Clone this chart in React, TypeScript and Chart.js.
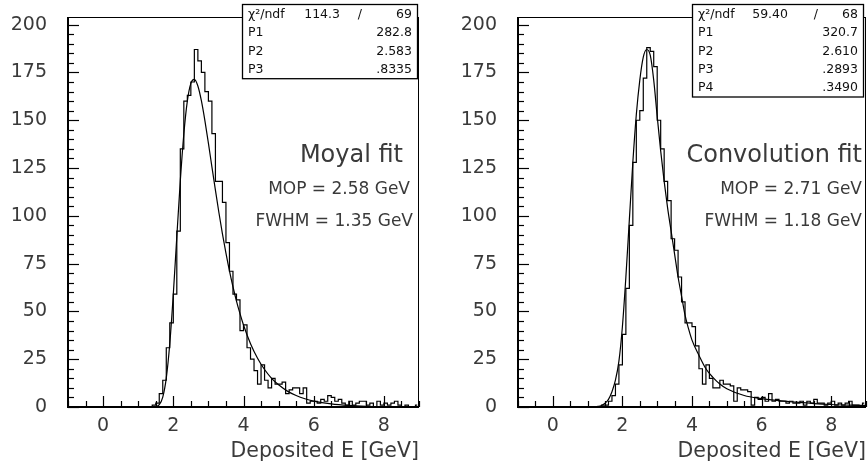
import React, { useEffect, useRef } from "react";
import { Chart, registerables } from "chart.js";

Chart.register(...registerables);

// ---------- data ----------
const BIN_LOW = -1.0;
const BIN_WIDTH = 0.1;

// counts per 0.1 GeV bin, from -1.0 to 9.0 (10 bins per row)
const moyalCounts = [
  0, 0, 0, 0, 0, 0, 0, 0, 0, 0,
  0, 0, 0, 0, 0, 0, 0, 0, 0, 0,
  0, 0, 0, 0, 1, 2, 7, 14, 31, 44,
  59, 92, 135, 160, 163, 170, 187, 181, 175, 165,
  160, 143, 118, 118, 107, 86, 71, 59, 56, 40,
  43, 31, 25, 19, 12, 22, 14, 10, 15, 12,
  12, 13, 7, 9, 10, 10, 7, 10, 2, 3,
  3, 2, 4, 3, 6, 5, 3, 4, 2, 1,
  3, 1, 2, 3, 3, 1, 2, 0, 3, 1,
  2, 1, 2, 3, 1, 0, 1, 0, 0, 1,
];

const convCounts = [
  0, 0, 0, 0, 0, 0, 0, 0, 0, 0,
  0, 0, 0, 0, 0, 0, 0, 0, 0, 0,
  0, 0, 0, 0, 1, 1, 3, 6, 12, 22,
  38, 62, 95, 128, 150, 155, 172, 188, 186, 178,
  150, 135, 118, 108, 88, 82, 68, 55, 44, 44,
  42, 32, 20, 12, 22, 15, 10, 10, 14, 12,
  12, 11, 3, 10, 9, 9, 8, 1, 5, 4,
  5, 3, 7, 3, 4, 3, 3, 2, 3, 2,
  2, 3, 1, 3, 2, 4, 2, 2, 1, 2,
  3, 1, 2, 1, 2, 3, 1, 1, 0, 2,
];

const moyalFitE = [1.3, 1.4, 1.5, 1.6, 1.7, 1.8, 1.9, 2.0, 2.1, 2.2, 2.3, 2.4, 2.5, 2.6, 2.7, 2.8, 2.9, 3.0, 3.1, 3.2, 3.3, 3.4, 3.5, 3.6, 3.7, 3.8, 3.9, 4.0, 4.2, 4.4, 4.6, 4.8, 5.0, 5.25, 5.5, 5.75, 6.0, 6.5, 7.0, 7.5, 8.0, 8.5, 9.0];
const moyalFitY = [0, 0, 0.2, 1.2, 5.2, 15.1, 33.2, 59.0, 89.0, 118.4, 142.8, 160.0, 169.3, 171.4, 167.9, 160.2, 149.8, 138.0, 125.6, 113.4, 101.6, 90.6, 80.5, 71.2, 62.9, 55.4, 48.8, 42.9, 33.1, 25.5, 19.6, 15.0, 11.6, 8.3, 6.0, 4.3, 3.1, 1.6, 0.8, 0.4, 0.2, 0.1, 0.06];

const convFitE = [1.1, 1.2, 1.3, 1.4, 1.5, 1.6, 1.7, 1.8, 1.9, 2.0, 2.1, 2.2, 2.3, 2.4, 2.5, 2.6, 2.7, 2.8, 2.9, 3.0, 3.1, 3.2, 3.3, 3.4, 3.5, 3.6, 3.7, 3.8, 3.9, 4.0, 4.2, 4.4, 4.6, 4.8, 5.0, 5.5, 6.0, 6.5, 7.0, 7.5, 8.0, 8.5, 9.0];
const convFitY = [0, 0.1, 0.3, 0.8, 2, 4, 8, 14, 24, 42, 68, 98, 128, 153, 171, 183, 187, 184, 171, 152, 134, 118, 104, 92, 80, 68, 58, 48, 41, 35, 27, 20, 15.5, 12, 9.5, 6, 4.4, 3.3, 2.5, 1.8, 1.3, 1.0, 0.8];

const xMajorTicks = [0, 2, 4, 6, 8];
const yMajorTicks = [0, 25, 50, 75, 100, 125, 150, 175, 200];
const X_MIN = -1;
const X_MAX = 9;
const Y_MAX = 204;

const moyalStats = [
  ["χ²/ndf", "114.3", "/", "69"],
  ["P1", "", "", "282.8"],
  ["P2", "", "", "2.583"],
  ["P3", "", "", ".8335"],
];
const convStats = [
  ["χ²/ndf", "59.40", "/", "68"],
  ["P1", "", "", "320.7"],
  ["P2", "", "", "2.610"],
  ["P3", "", "", ".2893"],
  ["P4", "", "", ".3490"],
];
const moyalNotes = ["Moyal fit", "MOP = 2.58 GeV", "FWHM = 1.35 GeV"];
const convNotes = ["Convolution fit", "MOP = 2.71 GeV", "FWHM = 1.18 GeV"];
const xTitle = "Deposited E [GeV]";

const FONT = "'DejaVu Sans', 'Liberation Sans', sans-serif";
const TEXT_COLOR = "#3a3a3a";

type PanelProps = {
  left: number;
  width: number;
  plotLeft: number;
  plotRight: number;
  plotTop: number;
  plotBottom: number;
  counts: number[];
  fitE: number[];
  fitY: number[];
  stats: string[][];
  statsBox: { x: number; y: number; w: number; cols: number[] };
  notes: string[];
  noteRight: number[];
};

function Panel(p: PanelProps) {
  const ref = useRef<HTMLCanvasElement | null>(null);
  useEffect(() => {
    const canvas = ref.current;
    if (!canvas) return;
    const histPts = p.counts.map((c, i) => ({ x: BIN_LOW + BIN_WIDTH * (i + 0.5), y: c }));
    const fitPts = p.fitE.map((e, i) => ({ x: e, y: p.fitY[i] }));
    const H = 465;

    const decor = {
      id: "rootDecor",
      afterDraw(chart: any) {
        const { ctx, chartArea } = chart;
        const xs = chart.scales.x;
        const ys = chart.scales.y;
        const { left, right, top, bottom } = chartArea;
        ctx.save();
        // frame
        ctx.strokeStyle = "#000";
        ctx.lineWidth = 1;
        ctx.strokeRect(left + 0.5, top + 0.5, right - left - 1, bottom - top);
        ctx.lineWidth = 2;
        ctx.beginPath();
        ctx.moveTo(left, top);
        ctx.lineTo(left, bottom);
        ctx.lineTo(right, bottom);
        ctx.stroke();
        // x ticks (inward)
        ctx.lineWidth = 1.2;
        for (let k = 0; k <= 20; k++) {
          const v = X_MIN + k * 0.5;
          const px = Math.round(xs.getPixelForValue(v)) + 0.5;
          const major = xMajorTicks.includes(v);
          const len = major ? 11 : 6;
          ctx.beginPath();
          ctx.moveTo(px, bottom);
          ctx.lineTo(px, bottom - len);
          ctx.stroke();
        }
        // y ticks (inward)
        for (let v = 0; v <= Y_MAX; v += 5) {
          const py = Math.round(ys.getPixelForValue(v)) + 0.5;
          const major = yMajorTicks.includes(v);
          const len = major ? 11 : 6;
          ctx.beginPath();
          ctx.moveTo(left, py);
          ctx.lineTo(left + len, py);
          ctx.stroke();
        }
        // x title
        ctx.fillStyle = TEXT_COLOR;
        ctx.textAlign = "right";
        ctx.textBaseline = "middle";
        ctx.font = `20.5px ${FONT}`;
        ctx.fillText(xTitle, right, 452);
        // notes
        ctx.font = `24px ${FONT}`;
        ctx.fillText(p.notes[0], p.noteRight[0], 156);
        ctx.font = `17px ${FONT}`;
        ctx.fillText(p.notes[1], p.noteRight[1], 190);
        ctx.fillText(p.notes[2], p.noteRight[2], 222);
        // stats box
        const sb = p.statsBox;
        const rowH = 18.3;
        const bh = rowH * p.stats.length + 1;
        ctx.fillStyle = "#fff";
        ctx.fillRect(sb.x, sb.y, sb.w, bh);
        ctx.strokeStyle = "#000";
        ctx.lineWidth = 1.3;
        ctx.strokeRect(sb.x + 0.5, sb.y + 0.5, sb.w, bh);
        ctx.fillStyle = "#111";
        ctx.font = `12.5px ${FONT}`;
        p.stats.forEach((row, r) => {
          const cy = sb.y + rowH * (r + 0.5) + 1.5;
          ctx.textAlign = "left";
          ctx.fillText(row[0], sb.x + 6, cy);
          ctx.textAlign = "right";
          if (row[1]) ctx.fillText(row[1], sb.x + sb.cols[0], cy);
          if (row[2]) ctx.fillText(row[2], sb.x + sb.cols[1], cy);
          ctx.fillText(row[3], sb.x + sb.w - 5, cy);
        });
        ctx.restore();
      },
    };

    const chart = new Chart(canvas, {
      type: "line",
      data: {
        datasets: [
          {
            data: histPts,
            stepped: "middle",
            borderColor: "#000",
            borderWidth: 1.2,
            pointRadius: 0,
            fill: false,
          },
          {
            data: fitPts,
            borderColor: "#000",
            borderWidth: 1.2,
            pointRadius: 0,
            fill: false,
            cubicInterpolationMode: "monotone",
          },
        ],
      },
      options: {
        animation: false,
        responsive: false,
        maintainAspectRatio: false,
        layout: {
          padding: { left: 0, top: p.plotTop, right: p.width - p.plotRight, bottom: 0 },
        },
        plugins: { legend: { display: false }, tooltip: { enabled: false } },
        scales: {
          x: {
            type: "linear",
            min: X_MIN,
            max: X_MAX,
            grid: { display: false, drawTicks: false },
            border: { display: false },
            afterBuildTicks: (s: any) => {
              s.ticks = xMajorTicks.map((v) => ({ value: v }));
            },
            afterFit: (s: any) => {
              s.height = H - p.plotBottom;
              s.paddingLeft = 0;
              s.paddingRight = 0;
            },
            ticks: {
              padding: 8,
              color: TEXT_COLOR,
              font: { family: FONT, size: 19 },
              maxRotation: 0,
              autoSkip: false,
            },
          },
          y: {
            type: "linear",
            min: 0,
            max: Y_MAX,
            grid: { display: false, drawTicks: false },
            border: { display: false },
            afterBuildTicks: (s: any) => {
              s.ticks = yMajorTicks.map((v) => ({ value: v }));
            },
            afterFit: (s: any) => {
              s.width = p.plotLeft;
              s.paddingTop = 0;
              s.paddingBottom = 0;
            },
            ticks: {
              padding: 21,
              color: TEXT_COLOR,
              font: { family: FONT, size: 19 },
              autoSkip: false,
            },
          },
        },
      },
      plugins: [decor],
    });
    return () => chart.destroy();
  }, []);
  return (
    <canvas
      ref={ref}
      width={p.width}
      height={465}
      style={{ position: "absolute", left: p.left, top: 0, width: p.width, height: 465 }}
    />
  );
}

export default function App() {
  return (
    <div style={{ position: "fixed", left: 0, top: 0, width: 868, height: 465, background: "#fff", overflow: "hidden" }}>
      <Panel
        left={0}
        width={434}
        plotLeft={68}
        plotRight={419}
        plotTop={17}
        plotBottom={407}
        counts={moyalCounts}
        fitE={moyalFitE}
        fitY={moyalFitY}
        stats={moyalStats}
        statsBox={{ x: 242, y: 4, w: 175, cols: [98, 120] }}
        notes={moyalNotes}
        noteRight={[403, 410, 413]}
      />
      <Panel
        left={434}
        width={434}
        plotLeft={84}
        plotRight={432}
        plotTop={17}
        plotBottom={407}
        counts={convCounts}
        fitE={convFitE}
        fitY={convFitY}
        stats={convStats}
        statsBox={{ x: 258, y: 4, w: 171, cols: [96, 126] }}
        notes={convNotes}
        noteRight={[428, 428, 428]}
      />
    </div>
  );
}
